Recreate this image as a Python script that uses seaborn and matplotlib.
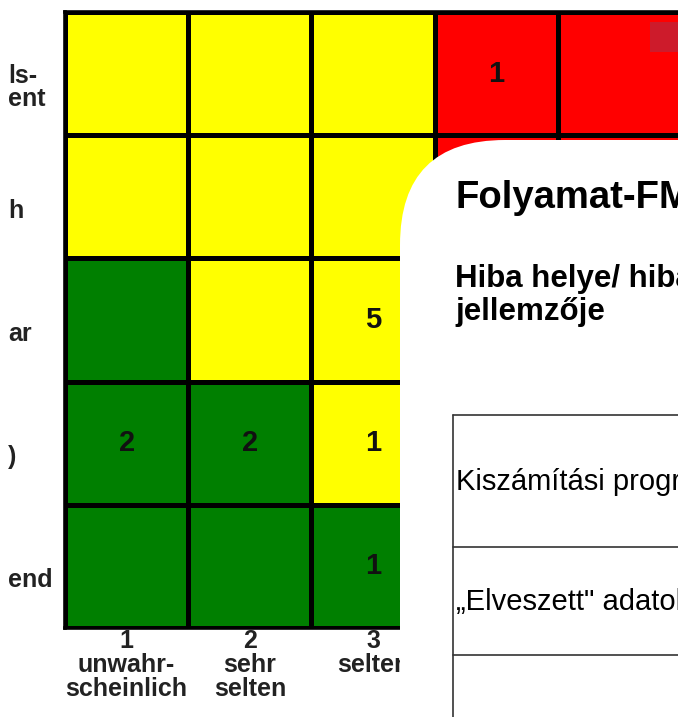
import matplotlib
matplotlib.use("Agg")
import matplotlib.pyplot as plt
import numpy as np
import seaborn as sns
from matplotlib.colors import ListedColormap
from matplotlib.patches import FancyBboxPatch, Rectangle
from matplotlib.transforms import ScaledTranslation

sns.set_theme(style="white")
plt.rcParams["font.family"] = ["Liberation Sans", "DejaVu Sans"]

# occurrence (columns) and severity (rows, clipped at the left edge of the screenshot)
occurrence_labels = ["1\nunwahr-\nscheinlich", "2\nsehr\nselten", "3\nselten",
                     "4\ngelegentlich", "5\nhäufig"]
severity_labels = ["ls-\nent", "h", "ar", ")", "end"]

# 0 = green, 1 = yellow, 2 = red
risk_class = [
    [1, 1, 1, 2, 2],
    [1, 1, 1, 2, 2],
    [0, 1, 1, 1, 2],
    [0, 0, 1, 1, 1],
    [0, 0, 0, 1, 1],
]
failure_counts = [
    [0, 0, 0, 1, 0],
    [0, 0, 0, 0, 0],
    [0, 0, 5, 0, 0],
    [2, 2, 1, 0, 0],
    [0, 0, 1, 0, 0],
]
risk_colors = ["#007f00", "#ffff00", "#ff0000"]

panel_title = "Folyamat-FMEA"
panel_subtitle = ["Hiba helye/ hiba típusa/", "jellemzője"]
table_rows = ["Kiszámítási program hibája", "„Elveszett\" adatok"]

W, H = 678, 717
fig = plt.figure(figsize=(W / 100, H / 100), dpi=100)
fig.patch.set_facecolor("white")

ax = fig.add_axes([65 / W, 89 / H, 616 / W, 616 / H])
counts = np.array(failure_counts)
annot = np.where(counts > 0, counts.astype(str), "")
sns.heatmap(np.array(risk_class), cmap=ListedColormap(risk_colors), vmin=-0.5, vmax=2.5,
            annot=annot, fmt="", cbar=False, linewidths=2.2, linecolor="black",
            annot_kws=dict(fontsize=21, fontweight="bold", color="#111111"),
            xticklabels=occurrence_labels, yticklabels=severity_labels, ax=ax)
for s in ax.spines.values():
    s.set_visible(True)
    s.set_linewidth(2.6)
    s.set_color("black")

ax.tick_params(axis="both", length=0)
ax.tick_params(axis="x", pad=1)
ax.tick_params(axis="y", pad=41)
for lab in ax.get_xticklabels():
    lab.set_rotation(0)
    lab.set_fontsize(18)
    lab.set_fontweight("bold")
    lab.set_color("#222222")
    lab.set_linespacing(0.98)
    lab.set_multialignment("center")
shift = ScaledTranslation(0, -14 / 100, fig.dpi_scale_trans)
for lab in ax.get_yticklabels():
    lab.set_rotation(0)
    lab.set_fontsize(18)
    lab.set_fontweight("bold")
    lab.set_color("#222222")
    lab.set_ha("left")
    lab.set_linespacing(0.98)
    lab.set_transform(lab.get_transform() + shift)

# overlay in screenshot pixels: slide panel on top of the matrix
ov = fig.add_axes([0, 0, 1, 1], zorder=5)
ov.set_xlim(0, W)
ov.set_ylim(H, 0)
ov.axis("off")
ov.patch.set_alpha(0)

ov.add_patch(Rectangle((650, 22), 30, 30, fc="#cd1b2b", ec="none"))
ov.add_patch(FancyBboxPatch((400, 140), 400, 700,
                            boxstyle="round,pad=0,rounding_size=105",
                            fc="white", ec="none"))

ov.text(455, 208, panel_title, fontsize=27.5, fontweight="bold", color="black",
        va="baseline", ha="left")
for i, line in enumerate(panel_subtitle):
    ov.text(455, 287 + 33 * i, line, fontsize=22.5, fontweight="bold", color="black",
            va="baseline", ha="left")

row_edges = [415, 547, 655]
for y in row_edges:
    ov.plot([453, 700], [y, y], color="#333333", lw=1.2)
ov.plot([453, 453], [row_edges[0], H + 5], color="#333333", lw=1.2)
for i, txt in enumerate(table_rows):
    mid = (row_edges[i] + row_edges[i + 1]) / 2
    ov.text(456, mid + 9, txt, fontsize=21, color="black", va="baseline", ha="left")

fig.savefig("out.png", dpi=100)
